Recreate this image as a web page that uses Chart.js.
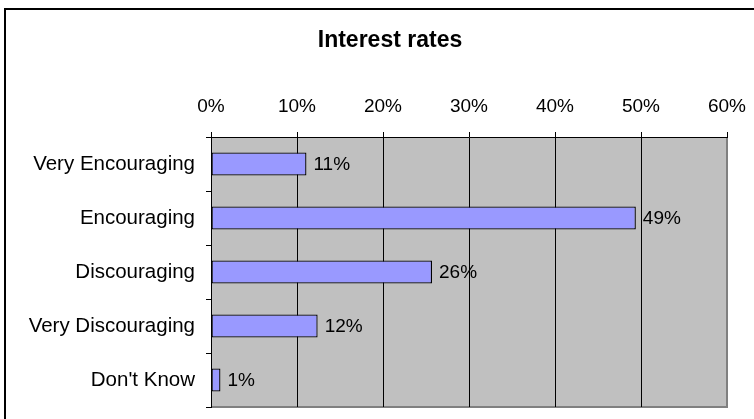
<!DOCTYPE html>
<html>
<head>
<meta charset="utf-8">
<script src="https://cdn.jsdelivr.net/npm/chart.js@4.4.1/dist/chart.umd.min.js"></script>
<style>
    html, body { margin: 0; padding: 0; background: #fff; overflow: hidden; }
    #wrap { position: relative; width: 754px; height: 419px; }
    #frame {
        position: absolute; left: 4px; top: 8px; width: 780px; height: 440px;
        border-left: 2px solid #000; border-top: 2px solid #000;
    }
    canvas { position: absolute; left: 0; top: 0; }
</style>
</head>
<body>
<div id="wrap">
    <div id="frame"></div>
    <canvas id="chart" width="754" height="419"></canvas>
</div>
<script>
// chart data
const chartTitle = "Interest rates";
const categories = ["Very Encouraging", "Encouraging", "Discouraging", "Very Discouraging", "Don't Know"];
const shares = [11.1, 49.4, 25.7, 12.4, 1.1];
const axisMax = 60;
const axisStep = 10;

const FONT = "'Liberation Sans', Arial, sans-serif";

// grey plot area with a darker edge on the right and bottom
const plotBackground = {
    id: "plotBackground",
    beforeDraw(chart) {
        const a = chart.chartArea;
        const ctx = chart.ctx;
        ctx.save();
        ctx.fillStyle = "#C0C0C0";
        ctx.fillRect(a.left, a.top, a.right - a.left, a.bottom - a.top);
        ctx.strokeStyle = "#808080";
        ctx.lineWidth = 2;
        ctx.beginPath();
        ctx.moveTo(a.right, a.top);
        ctx.lineTo(a.right, a.bottom);
        ctx.lineTo(a.left, a.bottom);
        ctx.stroke();
        ctx.restore();
    }
};

// title is centred on the whole (wider) chart frame, not the plot
const frameTitle = {
    id: "frameTitle",
    afterDraw(chart) {
        const ctx = chart.ctx;
        ctx.save();
        ctx.fillStyle = "#000";
        ctx.font = "bold 23px " + FONT;
        ctx.textAlign = "center";
        ctx.textBaseline = "alphabetic";
        ctx.fillText(chartTitle, 390, 47);
        ctx.restore();
    }
};

// value labels to the right of each bar
const barLabels = {
    id: "barLabels",
    afterDatasetsDraw(chart) {
        const ctx = chart.ctx;
        const meta = chart.getDatasetMeta(0);
        ctx.save();
        ctx.fillStyle = "#000";
        ctx.font = "19px " + FONT;
        ctx.textAlign = "left";
        ctx.textBaseline = "middle";
        meta.data.forEach((bar, i) => {
            ctx.fillText(Math.round(shares[i]) + "%", bar.x + 7, bar.y + 1);
        });
        ctx.restore();
    }
};

new Chart(document.getElementById("chart"), {
    type: "bar",
    data: {
        labels: categories,
        datasets: [{
            data: shares,
            backgroundColor: "#9999FF",
            borderColor: "#000",
            borderWidth: 1.3,
            borderSkipped: false,
            categoryPercentage: 1.0,
            barPercentage: 0.43
        }]
    },
    plugins: [plotBackground, barLabels, frameTitle],
    options: {
        indexAxis: "y",
        responsive: false,
        animation: false,
        layout: { padding: { left: 0, right: 27, top: 70, bottom: 12 } },
        plugins: {
            legend: { display: false },
            tooltip: { enabled: false },
            title: { display: false }
        },
        scales: {
            x: {
                position: "top",
                min: 0,
                max: axisMax,
                afterFit(scale) {
                    scale.height = 67;
                    scale.paddingLeft = 0;
                    scale.paddingRight = 0;
                },
                ticks: {
                    stepSize: axisStep,
                    color: "#000",
                    font: { family: FONT, size: 19 },
                    padding: 14,
                    callback: v => v + "%"
                },
                grid: {
                    color: ctx => (ctx.tick && ctx.tick.value === axisMax ? "#808080" : "#000"),
                    tickColor: "#000",
                    tickLength: 5,
                    lineWidth: 1
                },
                border: { display: true, color: "#000", width: 1 }
            },
            y: {
                afterFit(scale) {
                    scale.width = 211;
                    scale.paddingTop = 0;
                    scale.paddingBottom = 0;
                },
                ticks: {
                    color: "#000",
                    font: { family: FONT, size: 20.5 },
                    padding: 11
                },
                grid: {
                    drawOnChartArea: false,
                    color: "#000",
                    tickLength: 5,
                    offset: true
                },
                border: { display: true, color: "#000", width: 1 }
            }
        }
    }
});
</script>
</body>
</html>
